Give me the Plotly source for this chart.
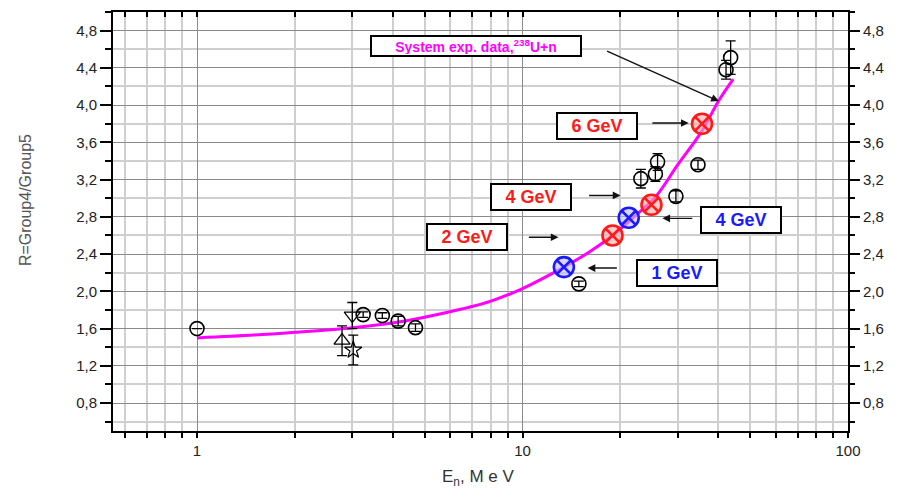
import math
import plotly.graph_objects as go

# ---------------- data ----------------
curve_E = [1.0, 1.5, 2.0, 3.0, 4.4, 6.5, 8.0, 10.0, 13.4, 16.0, 18.9, 22.0, 25.7, 30.0, 35.4, 40.1, 44.4]
curve_R = [1.50, 1.53, 1.56, 1.61, 1.685, 1.81, 1.895, 2.03, 2.26, 2.42, 2.60, 2.80, 3.02, 3.36, 3.71, 4.05, 4.28]

circ_E = [1.0, 3.24, 3.71, 4.15, 4.69, 14.9, 23.1, 25.6, 26.0, 29.6, 34.6, 42.2, 43.6]
circ_R = [1.60, 1.75, 1.74, 1.68, 1.61, 2.08, 3.21, 3.26, 3.39, 3.02, 3.36, 4.38, 4.51]
circ_err = [0.0, 0.03, 0.03, 0.05, 0.04, 0.03, 0.10, 0.08, 0.09, 0.06, 0.05, 0.10, 0.18]

tri_down_E, tri_down_R, tri_down_err = [3.0], [1.74], [0.14]
tri_up_E, tri_up_R, tri_up_err = [2.79], [1.47], [0.16]
star_E, star_R, star_err = [3.02], [1.37], [0.16]

red_E = [18.9, 24.9, 35.6]
red_R = [2.60, 2.93, 3.80]
blue_E = [13.4, 21.2]
blue_R = [2.26, 2.79]

y_ticks = [0.8, 1.2, 1.6, 2.0, 2.4, 2.8, 3.2, 3.6, 4.0, 4.4, 4.8]
y_ticktext = ["0,8", "1,2", "1,6", "2,0", "2,4", "2,8", "3,2", "3,6", "4,0", "4,4", "4,8"]
y_minor = [0.6, 1.0, 1.4, 1.8, 2.2, 2.6, 3.0, 3.4, 3.8, 4.2, 4.6, 5.0]
x_ticks = [1, 10, 100]
x_ticktext = ["1", "10", "100"]
x_minor = [0.6, 0.7, 0.8, 0.9, 2, 3, 4, 5, 6, 7, 8, 9, 20, 30, 40, 50, 60, 70, 80, 90]

# label boxes: (text, colour, E centre, R centre)
labels = [
    ("6 GeV", "#ff1a1a", 16.9, 3.776),
    ("4 GeV", "#ff1a1a", 10.6, 3.008),
    ("2 GeV", "#ff1a1a", 6.73, 2.581),
    ("4 GeV", "#1a1aff", 46.9, 2.763),
    ("1 GeV", "#1a1aff", 29.8, 2.197),
]
# arrows: (tail E, tail R, head E, head R)
arrows = [
    (18.0, 4.587, 40.1, 4.043),
    (24.8, 3.808, 32.4, 3.808),
    (15.85, 3.03, 20.0, 3.03),
    (10.35, 2.581, 12.9, 2.581),
    (33.6, 2.784, 26.9, 2.784),
    (19.7, 2.25, 15.85, 2.25),
]

FONT = "Liberation Sans, Arial, sans-serif"
XR = [math.log10(0.552), 2.0]
YR = [0.5, 5.0]

fig = go.Figure()

fig.add_trace(go.Scatter(x=curve_E, y=curve_R, mode="lines",
                         line=dict(color="#ff00ff", width=3, shape="spline", smoothing=1.0),
                         showlegend=False))

eb = dict(type="data", visible=True, color="black", thickness=1.3, width=5)

fig.add_trace(go.Scatter(x=circ_E, y=circ_R, mode="markers",
                         marker=dict(symbol="circle-open", size=14, color="black", line=dict(width=1.6)),
                         error_y=dict(array=circ_err, **eb), showlegend=False))
fig.add_trace(go.Scatter(x=tri_down_E, y=tri_down_R, mode="markers",
                         marker=dict(symbol="triangle-down-open", size=14, color="black", line=dict(width=1.3)),
                         error_y=dict(array=tri_down_err, **eb), showlegend=False))
fig.add_trace(go.Scatter(x=tri_up_E, y=tri_up_R, mode="markers",
                         marker=dict(symbol="triangle-up-open", size=14, color="black", line=dict(width=1.3)),
                         error_y=dict(array=tri_up_err, **eb), showlegend=False))
fig.add_trace(go.Scatter(x=star_E, y=star_R, mode="markers",
                         marker=dict(symbol="star-open", size=13, color="black", line=dict(width=1.2)),
                         error_y=dict(array=star_err, **eb), showlegend=False))

fig.add_trace(go.Scatter(x=red_E, y=red_R, mode="markers",
                         marker=dict(symbol="circle-x", size=20, color="rgba(255,170,170,0.6)",
                                     line=dict(width=2.6, color="#ff1a1a")), showlegend=False))
fig.add_trace(go.Scatter(x=blue_E, y=blue_R, mode="markers",
                         marker=dict(symbol="circle-x", size=20, color="rgba(190,190,255,0.6)",
                                     line=dict(width=2.6, color="#1a1aff")), showlegend=False))

# invisible trace so the mirrored (top / right) axes are drawn
fig.add_trace(go.Scatter(x=curve_E, y=curve_R, xaxis="x2", yaxis="y2", mode="lines",
                         opacity=0, hoverinfo="skip", showlegend=False))

ann = []
for text, col, e, r in labels:
    ann.append(dict(x=math.log10(e), y=r, xref="x", yref="y", text="<b>" + text + "</b>",
                    showarrow=False, font=dict(family=FONT, size=18, color=col),
                    bgcolor="white", bordercolor="black", borderwidth=2, borderpad=2,
                    width=74, height=20))
ann.append(dict(x=math.log10(7.21), y=4.64, xref="x", yref="y",
                text="<b>System exp. data,<sup>238</sup>U+n</b>", showarrow=False,
                font=dict(family=FONT, size=14, color="#ff00ff"),
                bgcolor="white", bordercolor="black", borderwidth=2, borderpad=1,
                width=206, height=16))
for te, tr, he, hr in arrows:
    ann.append(dict(x=math.log10(he), y=hr, ax=math.log10(te), ay=tr, xref="x", yref="y",
                    axref="x", ayref="y", text="", showarrow=True, arrowhead=2,
                    arrowsize=1.1, arrowwidth=1.4, arrowcolor="#111"))
ann.append(dict(x=(25 - 113) / 735, y=(431 - 199) / 421, xref="paper", yref="paper",
                xanchor="center", yanchor="middle",
                text="R=Group4/Group5", textangle=-90, showarrow=False,
                font=dict(family=FONT, size=16, color="#555")))
ann.append(dict(x=(478 - 113) / 735, y=(431 - 478) / 421, xref="paper", yref="paper",
                xanchor="center", yanchor="middle",
                text="E<sub>n</sub>, M e V", showarrow=False,
                font=dict(family=FONT, size=17, color="#333")))

tickfont = dict(family=FONT, size=15, color="#222")

# page body has an 8px margin: plot area lands at 113..848 x 10..431
fig.update_layout(
    width=890, height=486, autosize=False,
    margin=dict(l=105, r=50, t=2, b=63),
    plot_bgcolor="white", paper_bgcolor="white",
    annotations=ann,
    xaxis=dict(type="log", range=XR, tickmode="array", tickvals=x_ticks, ticktext=x_ticktext,
               ticks="outside", ticklen=5, tickwidth=2, tickcolor="black",
               showline=True, linecolor="black", linewidth=2, mirror=True,
               showgrid=True, gridcolor="#8a8a8a", gridwidth=1.2, zeroline=False,
               tickfont=tickfont,
               minor=dict(tickmode="array", tickvals=x_minor, ticks="outside", ticklen=5,
                          tickwidth=2, tickcolor="black", showgrid=True,
                          gridcolor="#cfcfcf", gridwidth=1.5)),
    xaxis2=dict(type="log", range=XR, overlaying="x", side="top", tickmode="array",
                tickvals=x_ticks, ticks="inside", ticklen=5, tickwidth=2, tickcolor="black",
                showticklabels=False, showgrid=False, showline=False, zeroline=False,
                minor=dict(tickmode="array", tickvals=x_minor, ticks="inside", ticklen=5,
                           tickwidth=2, tickcolor="black", showgrid=False)),
    yaxis=dict(range=YR, tickmode="array", tickvals=y_ticks, ticktext=y_ticktext,
               ticks="outside", ticklen=11, tickwidth=2, tickcolor="black",
               showline=True, linecolor="black", linewidth=2, mirror=True,
               showgrid=True, gridcolor="#8a8a8a", gridwidth=1.2, zeroline=False,
               tickfont=tickfont,
               minor=dict(tickmode="array", tickvals=y_minor, ticks="outside", ticklen=6,
                          tickwidth=2, tickcolor="black", showgrid=True,
                          gridcolor="#cfcfcf", gridwidth=1.5)),
    yaxis2=dict(range=YR, overlaying="y", side="right", tickmode="array", tickvals=y_ticks,
                ticktext=y_ticktext, ticks="outside", ticklen=11, tickwidth=2,
                tickcolor="black", showgrid=False, showline=False, zeroline=False,
                tickfont=tickfont,
                minor=dict(tickmode="array", tickvals=y_minor, ticks="outside", ticklen=6,
                           tickwidth=2, tickcolor="black", showgrid=False)),
)

fig.write_html("out.html")
